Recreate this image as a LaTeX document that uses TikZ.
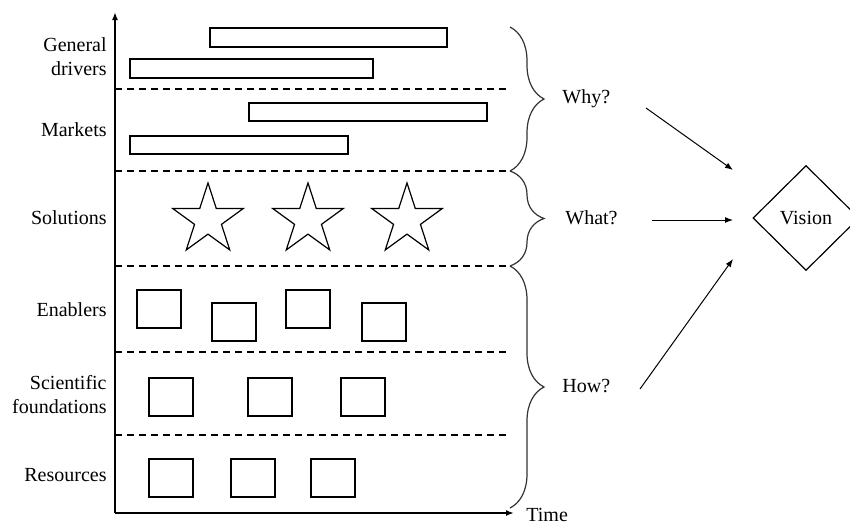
\documentclass[tikz,border=0pt]{standalone}
\usepackage{fontspec}
\setmainfont{Liberation Serif}
\usetikzlibrary{shapes.geometric,decorations.pathreplacing,arrows.meta}
\begin{document}
\begin{tikzpicture}[x=0.5pt,y=-0.5pt,
  txt/.style={font=\fontsize{10}{12}\selectfont, inner sep=0pt},
  lbl/.style={txt, align=right, anchor=east},
  qlbl/.style={txt, anchor=west},
  bar/.style={draw, line width=0.75pt, minimum height=9.5pt, inner sep=0pt, anchor=north west},
  sq/.style={draw, line width=0.75pt, minimum width=22pt, minimum height=19pt, inner sep=0pt, anchor=north west},
  sep/.style={dash pattern=on 3.5pt off 2.5pt, line width=0.7pt},
  axis/.style={line width=1pt, -{Latex[length=4pt,width=3pt]}},
  arr/.style={line width=0.5pt, -{Latex[length=4pt,width=3pt]}},
  starshape/.style={draw, star, star points=5, star point ratio=2.618, minimum size=37pt, inner sep=0pt, line width=0.6pt},
  brc/.style={decorate, decoration={brace, amplitude=17pt}, line width=0.6pt, draw=black!80}
]
\useasboundingbox (0,0) rectangle (850,525);
% axes
\coordinate (O) at (115,513);
\coordinate (ytop) at (115,12);
\coordinate (xend) at (514,513);
\draw[axis] (O) -- (ytop);
\draw[axis] (O) -- (xend);
\node[qlbl] (time) at (526,515) {Time};
% separators
\foreach \y/\n in {89/s1,171/s2,266/s3,352/s4,435/s5}{
  \coordinate (\n a) at (115,\y);
  \coordinate (\n b) at (510,\y);
  \draw[sep] (\n a) -- (\n b);
}
% row labels
\node[lbl] (gd) at (107,57) {General\\drivers};
\node[lbl] (mk) at (107,130) {Markets};
\node[lbl] (so) at (107,218) {Solutions};
\node[lbl] (en) at (107,310) {Enablers};
\node[lbl] (sf) at (107,395) {Scientific\\foundations};
\node[lbl] (re) at (107,475) {Resources};
% bars
\node[bar, minimum width=118.5pt] (b1) at (209,27) {};
\node[bar, minimum width=121.5pt] (b2) at (129,58) {};
\node[bar, minimum width=119pt, minimum height=9pt] (b3) at (248,102) {};
\node[bar, minimum width=109pt, minimum height=9pt] (b4) at (129,135) {};
% stars
\node[starshape] (st1) at (208,220) {};
\node[starshape] (st2) at (308,220) {};
\node[starshape] (st3) at (407,220) {};
% enablers
\node[sq] (e1) at (136,289) {};
\node[sq] (e2) at (211,302) {};
\node[sq] (e3) at (285,289) {};
\node[sq] (e4) at (361,302) {};
% scientific foundations
\node[sq] (f1) at (148,377) {};
\node[sq] (f2) at (247,377) {};
\node[sq] (f3) at (340,377) {};
% resources
\node[sq] (r1) at (148,458) {};
\node[sq] (r2) at (230,458) {};
\node[sq] (r3) at (310,458) {};
% braces
\coordinate (bw1) at (510,27);
\coordinate (bw2) at (510,171);
\coordinate (bt2) at (510,266);
\coordinate (bh2) at (510,508);
\draw[brc] (bw1) -- (bw2);
\draw[brc] (bw2) -- (bt2);
\draw[brc] (bt2) -- (bh2);
\node[qlbl] (why) at (562,99) {Why?};
\node[qlbl] (what) at (565,218) {What?};
\node[qlbl] (how) at (562,386) {How?};
% vision
\node[draw, diamond, minimum width=53pt, minimum height=52.5pt, inner sep=0pt, line width=0.6pt, txt] (vis) at (806,218) {Vision};
% arrows
\coordinate (wa) at (646,108);
\coordinate (wb) at (733,170);
\coordinate (ta) at (652,220);
\coordinate (tb) at (733,220);
\coordinate (ha) at (640,389);
\coordinate (hb) at (733,259);
\draw[arr] (wa) -- (wb);
\draw[arr] (ta) -- (tb);
\draw[arr] (ha) -- (hb);
\end{tikzpicture}
\end{document}
